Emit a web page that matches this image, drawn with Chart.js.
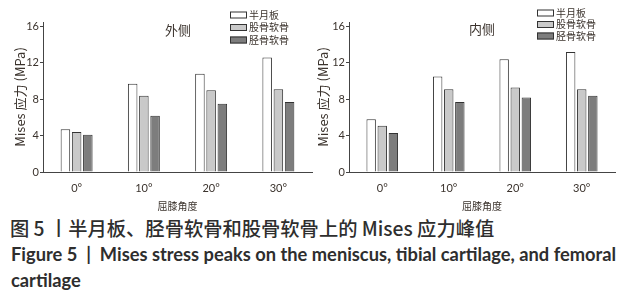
<!DOCTYPE html>
<html>
<head>
<meta charset="utf-8">
<script src="https://cdn.jsdelivr.net/npm/chart.js@4.4.1/dist/chart.umd.min.js"></script>
<style>
  body { margin: 0; width: 637px; height: 300px; background: #fff; position: relative; overflow: hidden; }
  #leftBox { position: absolute; left: 0; top: 0; width: 318px; height: 212px; }
  #rightBox { position: absolute; left: 300px; top: 0; width: 337px; height: 212px; }
  .cap { position: absolute; left: 10px; color: #2e2e2e; white-space: nowrap; }
  #capCn { top: 214px; font: 500 19.3px "Noto Sans CJK SC", sans-serif; }
  #capEn { left: 11px; top: 241px; font: bold 18.3px Lato, sans-serif; line-height: 26px; white-space: normal; width: 625px; }
</style>
</head>
<body>
<div id="leftBox"><canvas id="leftChart"></canvas></div>
<div id="rightBox"><canvas id="rightChart"></canvas></div>
<div class="cap" id="capCn">图 5 丨半月板、胫骨软骨和股骨软骨上的 Mises 应力峰值</div>
<div class="cap" id="capEn">Figure 5 &nbsp;|&nbsp; Mises stress peaks on the meniscus, tibial cartilage, and femoral cartilage</div>
<script>
const angles = ['0°', '10°', '20°', '30°'];
const seriesNames = ['半月板', '股骨软骨', '胫骨软骨'];
const yTicks = [0, 4, 8, 12, 16];

// 外侧
const lateralMeniscus = [4.7, 9.7, 10.8, 12.6];
const lateralFemoral = [4.4, 8.4, 9.0, 9.1];
const lateralTibial = [4.1, 6.2, 7.5, 7.7];
// 内侧
const medialMeniscus = [5.8, 10.5, 12.4, 13.2];
const medialFemoral = [5.1, 9.1, 9.3, 9.1];
const medialTibial = [4.3, 7.7, 8.2, 8.4];

const textColor = '#3b332d';
const lineColor = '#444';
const fills = ['#ffffff', '#c9c9c9', '#7d7d7d'];
const cjk = '"Noto Sans CJK SC", sans-serif';

// panel name + stacked legend in the top right corner
const panelDeco = {
  id: 'panelDeco',
  afterDraw(chart, args, opts) {
    const ctx = chart.ctx;
    ctx.save();
    ctx.fillStyle = textColor;
    ctx.textBaseline = 'middle';
    ctx.font = '13px ' + cjk;
    ctx.textAlign = 'center';
    ctx.fillText(opts.title, opts.titleX, opts.titleY);
    ctx.font = '10px ' + cjk;
    ctx.textAlign = 'left';
    chart.data.datasets.forEach((ds, i) => {
      const y = opts.legendY + i * opts.legendGap;
      ctx.fillStyle = ds.backgroundColor;
      ctx.fillRect(opts.legendX, y - 3.5, 17, 7);
      ctx.strokeStyle = '#333';
      ctx.lineWidth = 1;
      ctx.strokeRect(opts.legendX + 0.5, y - 3, 16, 6);
      ctx.fillStyle = textColor;
      ctx.fillText(ds.label, opts.legendX + 19, y);
    });
    ctx.restore();
  }
};

function makeChart(id, values, yWidth, padRight, titlePad, deco) {
  return new Chart(document.getElementById(id), {
    type: 'bar',
    data: {
      labels: angles,
      datasets: values.map((v, i) => ({
        label: seriesNames[i],
        data: v,
        backgroundColor: fills[i],
        borderColor: '#333',
        borderWidth: 1,
        barPercentage: 0.85,
        categoryPercentage: 0.5
      }))
    },
    options: {
      responsive: true,
      maintainAspectRatio: false,
      animation: false,
      layout: { padding: { left: 0, right: padRight, top: 22, bottom: 0 } },
      plugins: {
        legend: { display: false },
        tooltip: { enabled: false },
        panelDeco: deco
      },
      scales: {
        x: {
          grid: { display: false, drawTicks: false },
          border: { display: true, color: lineColor, width: 1 },
          ticks: { color: textColor, font: { size: 11, family: 'Lato' }, padding: 10 },
          title: { display: true, text: '屈膝角度', color: textColor, font: { size: 10, family: cjk }, padding: { top: 7, bottom: 0 } },
          afterFit: s => { s.height = 40; }
        },
        y: {
          min: 0,
          max: 16.5,
          afterBuildTicks: s => { s.ticks = yTicks.map(v => ({ value: v })); },
          grid: { drawOnChartArea: false, drawTicks: true, tickLength: 3, color: lineColor },
          border: { display: true, color: lineColor, width: 1 },
          ticks: { color: textColor, font: { size: 11, family: 'Lato' }, padding: 1 },
          title: { display: true, text: 'Mises 应力 (MPa)', color: textColor, font: { size: 13, family: cjk }, padding: { top: titlePad, bottom: 0 } },
          afterFit: s => { s.width = yWidth; }
        }
      }
    },
    plugins: [panelDeco]
  });
}

makeChart('leftChart', [lateralMeniscus, lateralFemoral, lateralTibial], 43, 6, 12,
  { title: '外侧', titleX: 178, titleY: 30, legendX: 230, legendY: 15, legendGap: 12.5 });
makeChart('rightChart', [medialMeniscus, medialFemoral, medialTibial], 49, 22, 15,
  { title: '内侧', titleX: 182, titleY: 29, legendX: 237, legendY: 13, legendGap: 11.5 });
</script>
</body>
</html>
